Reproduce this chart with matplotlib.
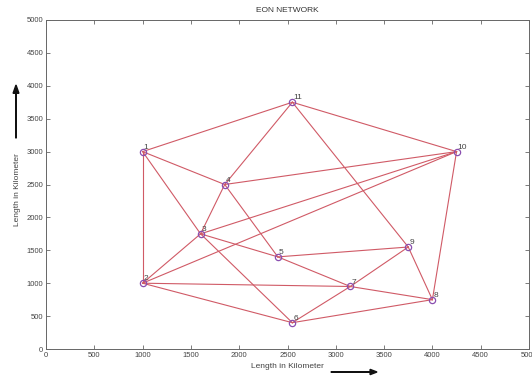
import matplotlib
matplotlib.use("Agg")
import matplotlib.pyplot as plt

# Node coordinates (km)
node_ids = [1, 2, 3, 4, 5, 6, 7, 8, 9, 10, 11]
node_x = [1000, 1000, 1600, 1850, 2400, 2550, 3150, 4000, 3750, 4250, 2550]
node_y = [3000, 1000, 1750, 2500, 1400, 400, 950, 750, 1550, 3000, 3750]

# Links between nodes
links = [
    (1, 11), (1, 4), (1, 2), (1, 3),
    (2, 3), (2, 10), (2, 7), (2, 6),
    (3, 4), (3, 10), (3, 5), (3, 6),
    (4, 11), (4, 10), (4, 5),
    (5, 9), (5, 7),
    (6, 7), (6, 8),
    (7, 9), (7, 8),
    (8, 9), (8, 10),
    (9, 11),
    (10, 11),
]

xticks = list(range(0, 5001, 500))
yticks = list(range(0, 5001, 500))

plt.rcParams['font.family'] = ['Liberation Sans', 'DejaVu Sans']

fig = plt.figure(figsize=(5.32, 3.77), dpi=100)
ax = fig.add_axes([46 / 532, 1 - 349 / 377, (529 - 46) / 532, (349 - 20) / 377])

pos = {n: (x, y) for n, x, y in zip(node_ids, node_x, node_y)}
for a, b in links:
    ax.plot([pos[a][0], pos[b][0]], [pos[a][1], pos[b][1]],
            color='#d05a66', lw=0.8, zorder=2)

ax.plot(node_x, node_y, 'o', ms=4.5, mfc='none', mec='#8a4fb0', mew=0.9, zorder=3)
for n, x, y in zip(node_ids, node_x, node_y):
    ax.text(x + 10, y + 45, str(n), fontsize=6, color='#444444', zorder=4)

ax.set_xlim(0, 5000)
ax.set_ylim(0, 5000)
ax.set_xticks(xticks)
ax.set_yticks(yticks)
ax.tick_params(direction='in', top=True, right=True, length=3, width=0.6,
               labelsize=5.5, labelcolor='#444444', color='#666666', pad=2)
for s in ax.spines.values():
    s.set_color('#666666')
    s.set_linewidth(0.7)

fig.text(287 / 532, 1 - 11 / 377, 'EON NETWORK', ha='center', va='center',
         fontsize=6, color='#333333')
fig.text(287 / 532, 1 - 367 / 377, 'Length in Kilometer', ha='center', va='center',
         fontsize=6, color='#444444')
fig.text(18 / 532, 1 - 190 / 377, 'Length in Kilometer', ha='center', va='center',
         rotation=90, fontsize=6, color='#444444')

# Direction arrows next to the axis labels
fig.patches.append(matplotlib.patches.FancyArrow(
    331 / 532, 1 - 372 / 377, 46 / 532, 0, width=0.0006, head_width=0.014,
    head_length=0.013, length_includes_head=True, color='#111111',
    transform=fig.transFigure))
fig.patches.append(matplotlib.patches.FancyArrow(
    16 / 532, 1 - 138 / 377, 0, 53 / 377, width=0.001, head_width=0.011,
    head_length=0.022, length_includes_head=True, color='#111111',
    transform=fig.transFigure))

fig.savefig('out.png', dpi=100)
